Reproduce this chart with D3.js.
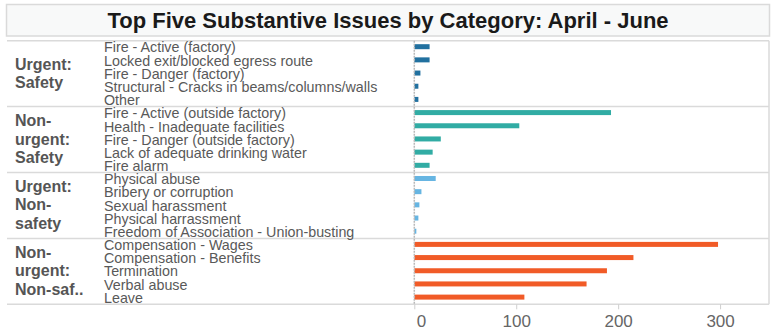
<!DOCTYPE html>
<html>
<head>
<meta charset="utf-8">
<script src="https://cdn.jsdelivr.net/npm/d3@7"></script>
<style>
  body { margin: 0; background: #fff; }
  svg { display: block; font-family: "Liberation Sans", Arial, sans-serif; }
</style>
</head>
<body>
<svg id="chart" width="783" height="335"></svg>
<script>
// --- data ---
const title = 'Top Five Substantive Issues by Category: April - June';

const groupLines = [
    ['Urgent:', 'Safety'],
    ['Non-', 'urgent:', 'Safety'],
    ['Urgent:', 'Non-', 'safety'],
    ['Non-', 'urgent:', 'Non-saf..']
];

const urgentSafetyIssues = ['Fire - Active (factory)', 'Locked exit/blocked egress route', 'Fire - Danger (factory)', 'Structural - Cracks in beams/columns/walls', 'Other'];
const urgentSafetyCounts = [15, 15, 6, 4, 4];

const nonUrgentSafetyIssues = ['Fire - Active (outside factory)', 'Health - Inadequate facilities', 'Fire - Danger (outside factory)', 'Lack of adequate drinking water', 'Fire alarm'];
const nonUrgentSafetyCounts = [193, 103, 26, 18, 15];

const urgentNonSafetyIssues = ['Physical abuse', 'Bribery or corruption', 'Sexual harassment', 'Physical harrassment', 'Freedom of Association - Union-busting'];
const urgentNonSafetyCounts = [21, 7, 5, 4, 2];

const nonUrgentNonSafetyIssues = ['Compensation - Wages', 'Compensation - Benefits', 'Termination', 'Verbal abuse', 'Leave'];
const nonUrgentNonSafetyCounts = [298, 215, 189, 169, 108];

const xTicks = [0, 100, 200, 300];
const groupColors = ['#21709f', '#31aca4', '#66b5e2', '#f15b27'];

const issueLists = [urgentSafetyIssues, nonUrgentSafetyIssues, urgentNonSafetyIssues, nonUrgentNonSafetyIssues];
const countLists = [urgentSafetyCounts, nonUrgentSafetyCounts, urgentNonSafetyCounts, nonUrgentNonSafetyCounts];

const rows = [];
issueLists.forEach((list, gi) => {
    list.forEach((issue, i) => {
        rows.push({ key: gi + '|' + issue, issue: issue, value: countLists[gi][i], group: gi });
    });
});

// --- layout ---
const paneTop = 40.7;
const paneBottom = 304.3;
const paneLeft = 414.3;
const paneRight = 769;
const lineColor = '#dadada';

const svg = d3.select('#chart');

const xScale = d3.scaleLinear()
    .domain([0, 348])
    .range([paneLeft, paneRight]);

const yScale = d3.scaleBand()
    .domain(rows.map(d => d.key))
    .range([paneTop, paneBottom]);

const step = yScale.step();
const barH = 5;

// title box
svg.append('rect')
    .attr('x', 6.5).attr('y', 4.5)
    .attr('width', 763).attr('height', 31.5)
    .attr('fill', '#f8f9f9')
    .attr('stroke', lineColor)
    .attr('stroke-width', 1.5);

svg.append('text')
    .attr('x', 388)
    .attr('y', 28)
    .attr('text-anchor', 'middle')
    .attr('font-size', 22)
    .attr('font-weight', 'bold')
    .attr('fill', '#1a1a1a')
    .text(title);

// row separators
const bounds = d3.range(groupLines.length + 1).map(i => paneTop + i * 5 * step);

svg.append('g').selectAll('line').data(bounds)
    .join('line')
    .attr('x1', 7)
    .attr('x2', paneRight)
    .attr('y1', d => d)
    .attr('y2', d => d)
    .attr('stroke', lineColor)
    .attr('stroke-width', 1.5);

svg.append('line')
    .attr('x1', paneRight).attr('x2', paneRight)
    .attr('y1', paneTop).attr('y2', paneBottom)
    .attr('stroke', lineColor)
    .attr('stroke-width', 1.5);

// group headers
const groupG = svg.append('g').selectAll('g').data(groupLines)
    .join('g')
    .attr('transform', (d, i) => `translate(15,${(bounds[i] + bounds[i + 1]) / 2})`);

groupG.selectAll('text').data(d => d.map((t, i) => ({ t: t, i: i, n: d.length })))
    .join('text')
    .attr('y', d => (d.i - (d.n - 1) / 2) * 18.3 + 5)
    .attr('font-size', 16)
    .attr('font-weight', 'bold')
    .attr('fill', '#555')
    .text(d => d.t);

// issue labels
svg.append('g').selectAll('text').data(rows)
    .join('text')
    .attr('x', 104)
    .attr('y', d => yScale(d.key) + step / 2)
    .attr('dy', '0.36em')
    .attr('font-size', 14.3)
    .attr('fill', '#595959')
    .text(d => d.issue);

// bars
svg.append('g').selectAll('rect').data(rows)
    .join('rect')
    .attr('x', xScale(0))
    .attr('y', d => yScale(d.key) + step / 2 - barH / 2 - 0.6)
    .attr('width', d => xScale(d.value) - xScale(0))
    .attr('height', barH)
    .attr('fill', d => groupColors[d.group]);

// zero line
svg.append('line')
    .attr('x1', xScale(0)).attr('x2', xScale(0))
    .attr('y1', paneTop).attr('y2', paneBottom)
    .attr('stroke', '#b9b9b9')
    .attr('stroke-width', 1.5)
    .attr('stroke-dasharray', '2,1');

// x axis
const xAxis = d3.axisBottom(xScale)
    .tickValues(xTicks)
    .tickSize(5)
    .tickPadding(6)
    .tickFormat(d3.format('d'));

const xAxisG = svg.append('g')
    .attr('transform', `translate(0,${paneBottom})`)
    .call(xAxis);

xAxisG.select('.domain').remove();
xAxisG.selectAll('.tick line').attr('stroke', '#cfcfcf');
xAxisG.selectAll('.tick text')
    .attr('font-family', '"Liberation Sans", Arial, sans-serif')
    .attr('font-size', 17)
    .attr('fill', '#666');
xAxisG.selectAll('.tick').filter(d => d === 0).select('text')
    .attr('text-anchor', 'start')
    .attr('dx', 2);
</script>
</body>
</html>
